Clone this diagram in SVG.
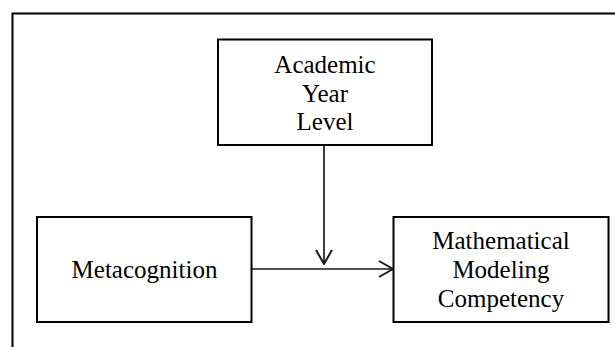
<svg xmlns="http://www.w3.org/2000/svg" width="615" height="347" viewBox="0 0 615 347">
<defs>
<style>
.box{fill:#fff;stroke:#000;stroke-width:2}
.lbl{font-family:"Liberation Serif","Times New Roman",serif;font-size:25px;fill:#000;text-anchor:middle}
.conn{stroke:#1a1a1a;stroke-width:1.7;fill:none}
</style>
<marker id="arr" viewBox="0 0 16 18" refX="15" refY="9" markerWidth="16" markerHeight="18" markerUnits="userSpaceOnUse" orient="auto">
<path d="M1,1 L15,9 L1,17" fill="none" stroke="#1a1a1a" stroke-width="2"/>
</marker>
</defs>
<rect width="615" height="347" fill="#fff"/>
<path d="M12.5,347 V13.5 H615" fill="none" stroke="#000" stroke-width="2"/>
<g id="connectors">
<line class="conn" x1="324" y1="146" x2="324" y2="264" marker-end="url(#arr)"/>
<line class="conn" x1="252" y1="269" x2="393" y2="269" marker-end="url(#arr)"/>
</g>
<g id="academic-year-level">
<rect class="box" x="218" y="39.5" width="214" height="105.5"/>
<text class="lbl" x="325" y="72.5">Academic</text>
<text class="lbl" x="325" y="101.5">Year</text>
<text class="lbl" x="325" y="130">Level</text>
</g>
<g id="metacognition">
<rect class="box" x="37" y="217" width="214.5" height="105"/>
<text class="lbl" x="144.5" y="278">Metacognition</text>
</g>
<g id="mathematical-modeling-competency">
<rect class="box" x="393.5" y="217" width="215" height="105"/>
<text class="lbl" x="501" y="249">Mathematical</text>
<text class="lbl" x="501" y="278">Modeling</text>
<text class="lbl" x="501" y="307">Competency</text>
</g>
</svg>
